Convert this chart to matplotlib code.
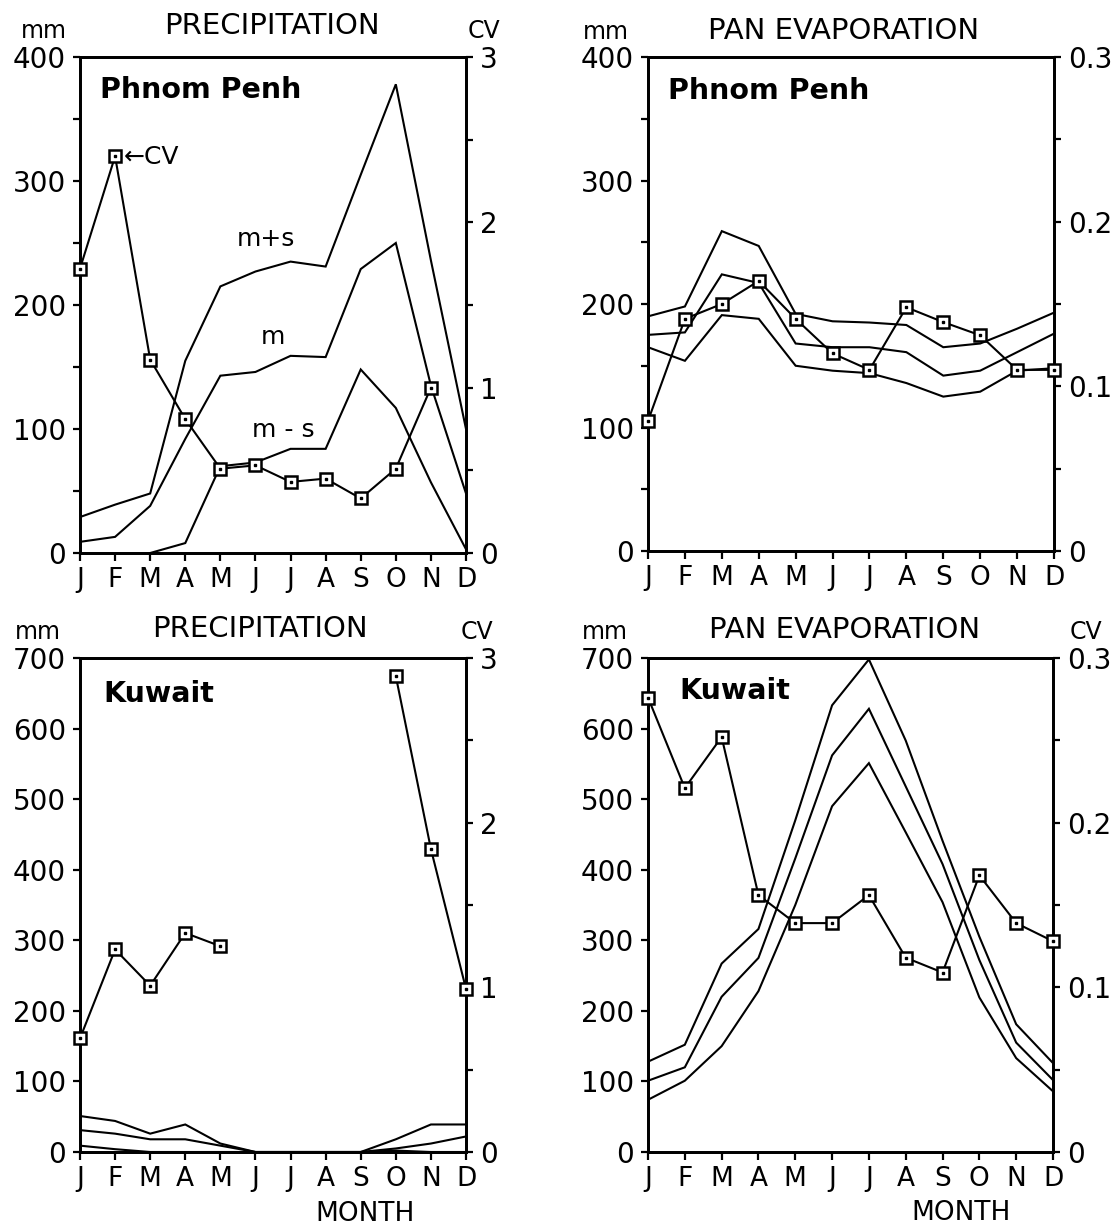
import numpy as np
import matplotlib
matplotlib.use("Agg")
import matplotlib.pyplot as plt
from matplotlib.ticker import FixedLocator, MultipleLocator, FixedFormatter

plt.rcParams['font.family'] = ['DejaVu Sans']

W, H = 1119, 1231
nan = np.nan

months = ["J", "F", "M", "A", "M", "J", "J", "A", "S", "O", "N", "D"]

# Phnom Penh precipitation (mm): mean+sd, mean, mean-sd; coefficient of variation
pp_prec_mps = [29, 39, 48, 155, 215, 227, 235, 231, 305, 378, 236, 100]
pp_prec_m = [9, 13, 38, 92, 143, 146, 159, 158, 229, 250, 135, 48]
pp_prec_mms = [nan, nan, 0, 8, 70, 73, 84, 84, 148, 117, 57, 3]
pp_prec_cv = [1.72, 2.40, 1.17, 0.81, 0.51, 0.53, 0.43, 0.45, 0.33, 0.51, 1.00, nan]

# Phnom Penh pan evaporation (mm) and CV
pp_evap_mps = [190, 198, 259, 247, 192, 186, 185, 183, 165, 168, 180, 193]
pp_evap_m = [175, 177, 224, 217, 168, 165, 165, 161, 142, 146, 161, 176]
pp_evap_mms = [165, 154, 191, 188, 150, 146, 144, 136, 125, 129, 146, 148]
pp_evap_cv = [0.079, 0.141, 0.150, 0.164, 0.141, 0.120, 0.110, 0.148, 0.139, 0.131, 0.110, 0.110]

# Kuwait precipitation (mm) and CV
kw_prec_mps = [51, 44, 26, 39, 12, 0, 0, 0, 0, 18, 39, 39]
kw_prec_m = [31, 26, 18, 18, 9, 0, 0, 0, 0, 5, 12, 22]
kw_prec_mms = [9, 4, 0, 0, 0, 0, 0, 0, 0, 2, 0, 0]
kw_prec_cv = [0.69, 1.23, 1.01, 1.33, 1.25, nan, nan, nan, nan, 2.89, 1.84, 0.99]

# Kuwait pan evaporation (mm) and CV
kw_evap_mps = [128, 152, 267, 316, 470, 633, 698, 583, 441, 305, 181, 126]
kw_evap_m = [101, 120, 220, 275, 416, 562, 628, 518, 408, 272, 155, 102]
kw_evap_mms = [74, 101, 150, 228, 350, 490, 551, 453, 354, 219, 133, 86]
kw_evap_cv = [0.276, 0.221, 0.252, 0.156, 0.139, 0.139, 0.156, 0.118, 0.109, 0.168, 0.139, 0.128]

fig = plt.figure(figsize=(W / 100, H / 100), dpi=100)


def rect(l, r, t, b):
    return [l / W, 1 - b / H, (r - l) / W, (b - t) / H]


def ftext(x, y, s, **kw):
    fig.text(x / W, 1 - y / H, s, **kw)


SPINE = 2.0
LINE = 1.5
x = np.arange(12)


def panel(box, ymax, ymajor, yminor, cvmax, cvmajor, cvminor, cvlabels, lines, cv):
    ax = fig.add_axes(rect(*box))
    ax.set_xlim(0, 11)
    ax.set_ylim(0, ymax)
    for s in lines:
        ax.plot(x, s, color='black', lw=LINE, solid_joinstyle='miter')
    ax.set_xticks(x)
    ax.set_xticklabels(months, fontsize=19)
    ax.yaxis.set_major_locator(MultipleLocator(ymajor))
    if yminor:
        ax.yaxis.set_minor_locator(MultipleLocator(yminor))
    ax.tick_params(axis='x', direction='out', length=6, width=1.6, pad=4)
    ax.tick_params(axis='y', which='both', direction='out', length=5, width=1.6, pad=5, labelsize=20)
    for sp in ax.spines.values():
        sp.set_linewidth(SPINE)

    ax2 = ax.twinx()
    ax2.set_ylim(0, cvmax)
    ax2.yaxis.set_major_locator(FixedLocator(cvmajor))
    ax2.yaxis.set_major_formatter(FixedFormatter(cvlabels))
    ax2.yaxis.set_minor_locator(MultipleLocator(cvminor))
    ax2.tick_params(axis='y', which='both', direction='out', length=5, width=1.6, pad=5, labelsize=20)
    for sp in ax2.spines.values():
        sp.set_linewidth(SPINE)
    ax2.plot(x, cv, color='black', lw=LINE, marker='s', ms=8.5, mfc='white', mec='black',
             mew=1.8, clip_on=False, zorder=5)
    ax2.plot(x, cv, ls='none', marker='s', ms=1.8, color='black', clip_on=False, zorder=6)
    return ax, ax2


# Phnom Penh precipitation
ax, _ = panel((80, 466, 57, 553), 400, 100, 50, 3, [0, 1, 2, 3], 0.5, ['0', '1', '2', '3'],
              [pp_prec_mps, pp_prec_m, pp_prec_mms], pp_prec_cv)
ax.text(5.3, 253, "m+s", fontsize=18, ha='center', va='center')
ax.text(5.5, 174, "m", fontsize=18, ha='center', va='center')
ax.text(5.8, 99, "m - s", fontsize=18, ha='center', va='center')

# Phnom Penh pan evaporation
panel((648, 1054, 57, 551), 400, 100, 50, 0.3, [0, 0.1, 0.2, 0.3], 0.05, ['0', '0.1', '0.2', '0.3'],
      [pp_evap_mps, pp_evap_m, pp_evap_mms], pp_evap_cv)

# Kuwait precipitation
panel((80, 466, 658, 1152), 700, 100, None, 3, [0, 1, 2, 3], 0.5, ['0', '1', '2', '3'],
      [kw_prec_mps, kw_prec_m, kw_prec_mms], kw_prec_cv)

# Kuwait pan evaporation
panel((648, 1053, 658, 1152), 700, 100, None, 0.3, [0, 0.1, 0.2, 0.3], 0.05, ['0', '0.1', '0.2', '0.3'],
      [kw_evap_mps, kw_evap_m, kw_evap_mms], kw_evap_cv)

# headings and unit labels
for (mx, my, tx, ty, title, cvx) in [(44, 31, 272, 26, "PRECIPITATION", 484),
                                     (606, 32, 844, 31, "PAN EVAPORATION", None),
                                     (38, 632, 260, 629, "PRECIPITATION", 477),
                                     (605, 632, 845, 630, "PAN EVAPORATION", 1086)]:
    ftext(mx, my, "mm", fontsize=17, ha='center', va='center')
    ftext(tx, ty, title, fontsize=21, ha='center', va='center')
    if cvx is not None:
        ftext(cvx, my, "CV", fontsize=17, ha='center', va='center')

ftext(100, 90, "Phnom Penh", fontsize=20.5, fontweight='bold', ha='left', va='center')
ftext(668, 91, "Phnom Penh", fontsize=20.5, fontweight='bold', ha='left', va='center')
ftext(103, 694, "Kuwait", fontsize=20.5, fontweight='bold', ha='left', va='center')
ftext(679, 691, "Kuwait", fontsize=20.5, fontweight='bold', ha='left', va='center')
ftext(124, 157, "\u2190CV", fontsize=18, ha='left', va='center')

ftext(365, 1214, "MONTH", fontsize=19, ha='center', va='center')
ftext(961, 1213, "MONTH", fontsize=19, ha='center', va='center')

fig.savefig("out.png", dpi=100, facecolor='white')
